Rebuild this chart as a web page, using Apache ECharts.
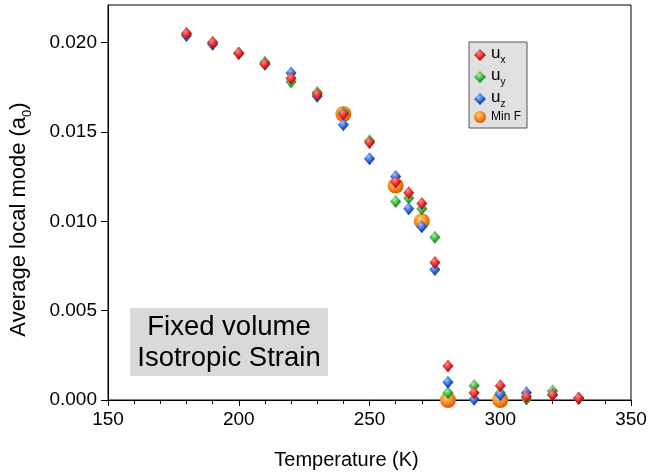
<!DOCTYPE html>
<html>
<head>
<meta charset="utf-8">
<script src="https://cdn.jsdelivr.net/npm/echarts@6/dist/echarts.min.js"></script>
<style>
  html, body { margin: 0; padding: 0; background: #fff; }
  #chart { width: 650px; height: 475px; }
</style>
</head>
<body>
<div id="chart"></div>
<script>
  // 温度 (K)
  const temps = [180, 190, 200, 210, 220, 230, 240, 250, 260, 265, 270, 275, 280, 290, 300, 310, 320, 330];
  // 三个方向的局部模
  const ux = [0.0205, 0.0200, 0.0194, 0.0188, 0.0180, 0.0171, 0.0160, 0.0144, 0.0122, 0.0116, 0.0110, 0.0077, 0.0019, 0.0004, 0.0008, 0.0002, 0.0003, 0.0001];
  const uy = [0.0205, 0.0200, 0.0194, 0.0189, 0.0178, 0.0172, 0.0161, 0.0145, 0.0111, 0.0113, 0.0107, 0.0091, 0.0004, 0.0008, 0.0004, 0.00005, 0.0005, 0.0001];
  const uz = [0.0204, 0.0199, 0.0194, 0.0188, 0.0183, 0.0170, 0.0154, 0.0135, 0.0125, 0.0107, 0.0097, 0.0073, 0.0010, 0.00004, 0.0003, 0.0004, 0.0003, 0.0001];
  // 自由能最小点
  const minFTemps = [240, 260, 270, 280, 300];
  const minF = [0.0160, 0.0120, 0.0100, 0.0, 0.0];
  const yTicks = [0, 0.005, 0.010, 0.015, 0.020];

  function pairs(xs, ys) {
    return xs.map(function (x, i) { return [x, ys[i]]; });
  }
  function ball(c0, c1, c2) {
    return {
      type: 'radial', x: 0.4, y: 0.35, r: 0.75,
      colorStops: [{ offset: 0, color: c0 }, { offset: 0.55, color: c1 }, { offset: 1, color: c2 }]
    };
  }

  const chart = echarts.init(document.getElementById('chart'));
  chart.setOption({
    animation: false,
    textStyle: { fontFamily: 'Liberation Sans, Arial, sans-serif' },
    grid: { left: 108, right: 19, top: 5, bottom: 75, show: true, borderColor: '#000', borderWidth: 1 },
    legend: {
      orient: 'vertical',
      left: 469, top: 42,
      padding: [3, 6, 5, 5],
      itemGap: 2,
      itemWidth: 12, itemHeight: 12,
      backgroundColor: '#e0e0e0',
      borderColor: '#555', borderWidth: 1,
      data: ['ux', 'uy', 'uz', 'Min F'],
      formatter: function (name) {
        return name === 'Min F' ? '{m|Min F}' : '{u|u}{s|' + name.charAt(1) + '}';
      },
      textStyle: {
        color: '#000',
        rich: {
          u: { fontSize: 17, lineHeight: 17, verticalAlign: 'top', color: '#000' },
          s: { fontSize: 10, lineHeight: 20, verticalAlign: 'bottom', color: '#000' },
          m: { fontSize: 12, lineHeight: 20, color: '#000' }
        }
      }
    },
    xAxis: {
      type: 'value', min: 150, max: 350, interval: 50,
      name: 'Temperature (K)', nameLocation: 'middle', nameGap: 50,
      nameTextStyle: { fontSize: 20, color: '#000', padding: [0, 46, 0, 0] },
      axisLine: { lineStyle: { color: '#000' } },
      axisTick: { length: 6, lineStyle: { color: '#000' } },
      minorTick: { show: true, splitNumber: 5, length: 4, lineStyle: { color: '#000' } },
      splitLine: { show: false },
      axisLabel: { fontSize: 19, color: '#000', margin: 10 }
    },
    yAxis: {
      type: 'value', min: 0, max: 0.0221, interval: 0.005,
      name: '{n|Average local mode (a}{s|0}{n|)}', nameLocation: 'middle', nameGap: 74,
      nameTextStyle: {
        padding: [0, 34, 0, 0],
        rich: {
          n: { fontSize: 22, lineHeight: 22, verticalAlign: 'top', color: '#000' },
          s: { fontSize: 13, lineHeight: 26, verticalAlign: 'bottom', color: '#000' }
        }
      },
      axisLine: { lineStyle: { color: '#000' } },
      axisTick: { length: 7, customValues: yTicks, lineStyle: { color: '#000' } },
      splitLine: { show: false },
      axisLabel: {
        fontSize: 19, color: '#000', margin: 11, customValues: yTicks,
        formatter: function (v) { return v.toFixed(3); }
      }
    },
    graphic: [{
      type: 'group',
      children: [
        { type: 'rect', shape: { x: 130, y: 308, width: 198, height: 68 }, style: { fill: '#d9d9d9' } },
        {
          type: 'text', x: 229, y: 343,
          style: {
            text: 'Fixed volume\nIsotropic Strain',
            font: '27.5px "Liberation Sans", Arial, sans-serif',
            fill: '#000', align: 'center', verticalAlign: 'middle', lineHeight: 31
          }
        }
      ]
    }],
    series: [
      {
        name: 'Min F', type: 'scatter', symbol: 'circle', symbolSize: 16,
        data: pairs(minFTemps, minF),
        itemStyle: { color: ball('#ffd870', '#f5801a', '#c44800'), opacity: 1 }
      },
      {
        name: 'uy', type: 'scatter', symbol: 'diamond', symbolSize: [11, 13],
        data: pairs(temps, uy),
        itemStyle: { color: ball('#a8f0a0', '#28a830', '#0c6410'), opacity: 1 }
      },
      {
        name: 'uz', type: 'scatter', symbol: 'diamond', symbolSize: [11, 13],
        data: pairs(temps, uz),
        itemStyle: { color: ball('#9cc0ff', '#2058cc', '#0a2c80'), opacity: 1 }
      },
      {
        name: 'ux', type: 'scatter', symbol: 'diamond', symbolSize: [11, 13],
        data: pairs(temps, ux),
        itemStyle: { color: ball('#ff8a8a', '#d81c1c', '#860000'), opacity: 1 }
      }
    ]
  });
</script>
</body>
</html>
